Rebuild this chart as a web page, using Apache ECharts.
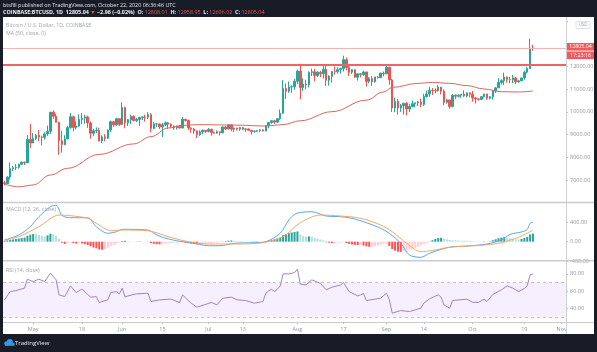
<!DOCTYPE html>
<html><head><meta charset="utf-8">
<script src="https://cdn.jsdelivr.net/npm/echarts@6/dist/echarts.min.js"></script>
<style>html,body{margin:0;padding:0;background:#fff}#c{width:597px;height:352px}</style>
</head><body><div id="c"></div>
<script>
// ---------- categories / ticks ----------
const startDate = '2020-04-21';
const dayCount = 196; // axis runs Apr 21 .. Nov 2
const tickDates = ['2020-05-01','2020-05-18','2020-06-01','2020-06-15','2020-07-01','2020-07-13','2020-08-01','2020-08-17','2020-09-01','2020-09-14','2020-10-01','2020-10-19','2020-11-01'];
const tickTexts = ['May','18','Jun','15','Jul','13','Aug','17','Sep','14','Oct','19','Nov'];

// ---------- daily OHLC, Apr 21 .. Oct 22 2020 ----------
const opens = [6880,6845,7130,7500,7540,7560,7690,7790,7760,8790,
8630,8830,8970,8890,8880,9030,9150,9990,9810,9540,
8730,8560,8810,9310,9790,9310,9380,9670,9730,9780,
9510,9060,9170,9180,8720,8900,8840,9200,9570,9430,9700,
9450,10200,9520,9660,9800,9620,9670,9750,9780,9770,
9880,9270,9470,9470,9340,9430,9520,9460,9380,9300,
9360,9290,9680,9620,9290,9250,9160,9000,9120,9190,
9140,9230,9090,9060,9130,9080,9340,9250,9430,9240,
9290,9240,9310,9240,9250,9190,9130,9150,9170,9210,
9160,9390,9530,9610,9550,9700,9940,11030,10910,11100,11110,
11350,11800,11070,11230,11190,11740,11770,11600,11750,11680,
11880,11390,11570,11780,11770,11860,11910,12300,11960,11750,
11860,11530,11680,11650,11760,11340,11470,11330,11540,11510,11710,
11680,11970,11410,10170,10470,10170,10280,10380,10130,10240,
10360,10400,10440,10330,10680,10790,10950,10940,10930,11090,
10920,10420,10530,10240,10740,10690,10730,10780,10700,10840,
10780,10620,10570,10550,10670,10790,10600,10670,10920,11060,
11300,11380,11540,11430,11430,11500,11320,11370,11500,11750,
11910,12808];
const closes = [6845,7130,7500,7540,7560,7690,7790,7760,8790,8630,
8830,8970,8890,8880,9030,9150,9990,9810,9540,8730,
8560,8810,9310,9790,9310,9380,9670,9730,9780,9510,
9060,9170,9180,8720,8900,8840,9200,9570,9430,9700,9450,
10200,9520,9660,9800,9620,9670,9750,9780,9770,9880,
9270,9470,9470,9340,9430,9520,9460,9380,9300,9360,
9290,9680,9620,9290,9250,9160,9000,9120,9190,9140,
9230,9090,9060,9130,9080,9340,9250,9430,9240,9290,
9240,9310,9240,9250,9190,9130,9150,9170,9210,9160,
9390,9530,9610,9550,9700,9940,11030,10910,11100,11110,11350,
11800,11070,11230,11190,11740,11770,11600,11750,11680,11880,
11390,11570,11780,11770,11860,11910,12300,11960,11750,11860,
11530,11680,11650,11760,11340,11470,11330,11540,11510,11710,11680,
11970,11410,10170,10470,10170,10280,10380,10130,10240,10360,
10400,10440,10330,10680,10790,10950,10940,10930,11090,10920,
10420,10530,10240,10740,10690,10730,10780,10700,10840,10780,
10620,10570,10550,10670,10790,10600,10670,10920,11060,11300,
11380,11540,11430,11430,11500,11320,11370,11500,11750,11910,
12808,12805];
const highs = [6965,7160,7770,7620,7700,7720,7800,7800,8980,9470,
9070,9020,9200,8950,9100,9400,9990,10070,9920,9570,
9170,8970,9390,9950,9840,9580,9890,9950,9880,9840,
9580,9260,9320,9310,8970,9020,9220,9620,9610,9740,9700,
10430,10230,9690,9880,9850,9740,9790,9800,9880,9990,
9950,9560,9490,9490,9520,9580,9560,9490,9400,9400,
9420,9780,9690,9660,9320,9290,9190,9190,9230,9200,
9290,9270,9130,9190,9140,9360,9370,9460,9440,9310,
9300,9340,9340,9280,9270,9210,9190,9200,9240,9220,
9420,9550,9640,9650,9730,10110,11400,11250,11340,11170,11450,
11860,12120,11480,11420,11790,11910,11900,11800,11810,12070,
12050,11620,11800,12000,11970,11950,12480,12400,12030,11890,
11880,11690,11700,11820,11770,11540,11590,11550,11590,11720,11780,
12090,11990,11460,10630,10570,10350,10400,10440,10360,10500,
10410,10480,10580,10800,10940,11100,11050,11040,11180,11100,
10990,10580,10540,10790,10770,10780,10790,10950,10860,10850,
10920,10640,10600,10690,10800,10800,10690,10960,11100,11490,
11440,11730,11560,11550,11630,11540,11400,11500,11820,11990,
13220,12959];
const lows = [6770,6830,7020,7400,7450,7500,7660,7660,7740,8400,
8630,8770,8710,8530,8780,8940,9030,9700,9520,8110,
8200,8530,8800,9260,9140,9230,9330,9460,9480,9300,
8820,8940,9070,8700,8630,8700,8810,9110,9340,9370,9370,
9420,9280,9380,9470,9580,9550,9380,9640,9570,9690,
9100,9240,9340,9250,8900,9380,9250,9280,9200,9220,
9270,9280,9570,9200,9080,9030,8850,8940,9020,9070,
9100,8950,9040,9050,8960,9060,9200,9230,9150,9110,
9180,9160,9200,9120,9170,9000,9090,9120,9110,9140,
9150,9280,9480,9460,9530,9650,9920,10570,10840,10850,10980,
11220,10550,10920,11000,11080,11580,11350,11540,11530,11470,
11140,11160,11290,11640,11690,11690,11780,11830,11580,11670,
11500,11380,11520,11590,11120,11260,11150,11290,11470,11490,11570,
11660,11200,10000,9990,9880,10000,9880,9850,10000,10200,
10200,10260,10210,10270,10630,10670,10750,10820,10900,10770,
10300,10360,10140,10200,10560,10640,10610,10650,10640,10650,
10450,10370,10500,10520,10630,10530,10560,10540,10830,11060,
11210,11180,11290,11270,11270,11220,11290,11350,11420,11690,
11900,12696];

// ---------- MA (50) ----------
const smaDates = ['2020-04-21','2020-04-26','2020-05-01','2020-05-07','2020-05-13','2020-05-24','2020-06-05','2020-06-11','2020-06-17','2020-06-22','2020-06-28','2020-07-10','2020-07-21','2020-07-27','2020-08-02','2020-08-13','2020-08-25','2020-08-31','2020-09-03','2020-09-12','2020-09-17','2020-09-23','2020-09-29','2020-10-05','2020-10-11','2020-10-17','2020-10-22'];
const smaValues = [6824,6700,6780,7220,7515,8130,8590,8910,9290,9410,9440,9420,9380,9440,9610,10010,10520,10880,11080,11260,11300,11260,11160,11010,10890,10880,10920];

// ---------- MACD ----------
const macdDates = ['2020-04-21','2020-04-26','2020-04-30','2020-05-03','2020-05-07','2020-05-09','2020-05-11','2020-05-14','2020-05-20','2020-05-23','2020-05-27','2020-05-30','2020-06-01','2020-06-10','2020-06-12','2020-06-15','2020-06-20','2020-06-26','2020-07-01','2020-07-05','2020-07-10','2020-07-17','2020-07-21','2020-07-26','2020-07-29','2020-07-31','2020-08-02','2020-08-06','2020-08-11','2020-08-16','2020-08-20','2020-08-25','2020-08-30','2020-09-02','2020-09-06','2020-09-09','2020-09-13','2020-09-16','2020-09-20','2020-09-24','2020-09-29','2020-10-06','2020-10-11','2020-10-14','2020-10-18','2020-10-20','2020-10-21','2020-10-22'];
const macdValues = [35,137,308,513,718,748,540,492,491,308,172,205,254,240,172,90,20,-33,-82,-82,-33,-20,0,172,445,560,600,615,527,513,480,390,275,172,-33,-273,-320,-238,-156,-102,-90,-47,35,150,200,250,380,398];
const signalDates = ['2020-04-21','2020-04-26','2020-05-03','2020-05-10','2020-05-14','2020-05-20','2020-05-23','2020-05-28','2020-06-01','2020-06-10','2020-06-17','2020-06-24','2020-07-01','2020-07-10','2020-07-20','2020-07-27','2020-08-02','2020-08-09','2020-08-16','2020-08-23','2020-08-30','2020-09-03','2020-09-08','2020-09-13','2020-09-17','2020-09-23','2020-10-05','2020-10-11','2020-10-17','2020-10-22'];
const signalValues = [30,103,308,547,533,480,377,225,240,225,103,0,-47,-47,-20,103,390,547,527,480,342,205,-33,-205,-180,-115,-68,-20,90,240];
// histogram, one bar per day Apr 21 .. Oct 22
const histValues = [15,25,35,45,55,65,75,85,120,145,
160,155,140,120,105,130,165,150,120,60,
-20,-45,-35,-20,-30,-40,-30,-35,-50,-70,
-95,-120,-135,-160,-165,-150,-125,-95,-70,-45,-20,
15,20,10,5,0,5,8,5,2,-5,
-30,-45,-50,-55,-45,-40,-35,-30,-25,-20,
-15,-10,-20,-30,-40,-48,-55,-50,-45,-40,
-35,-30,-25,-20,-10,5,12,20,25,20,
15,12,8,4,0,-4,-8,-10,-8,-5,
5,20,35,50,65,85,135,155,175,190,200,
210,150,120,100,110,105,80,60,45,30,
-10,-20,-28,-25,-20,-15,-8,-30,-45,-55,
-65,-68,-60,-80,-95,-105,-100,-90,-75,-60,-50,
-40,-90,-150,-185,-205,-210,-195,-180,-165,-145,
-125,-105,-80,-55,-30,5,30,55,75,80,
65,50,35,30,28,25,22,20,18,15,
10,7,5,4,6,5,8,30,50,70,
85,92,80,70,60,50,45,55,75,100,
150,165];

// ---------- RSI (14) ----------
const rsiDates = ['2020-04-21','2020-04-23','2020-04-25','2020-04-28','2020-04-29','2020-05-01','2020-05-03','2020-05-05','2020-05-07','2020-05-09','2020-05-10','2020-05-12','2020-05-14','2020-05-16','2020-05-18','2020-05-21','2020-05-23','2020-05-24','2020-05-27','2020-05-28','2020-05-30','2020-05-31','2020-06-01','2020-06-02','2020-06-03','2020-06-06','2020-06-10','2020-06-11','2020-06-14','2020-06-18','2020-06-21','2020-06-22','2020-06-25','2020-06-27','2020-07-02','2020-07-04','2020-07-06','2020-07-09','2020-07-11','2020-07-14','2020-07-17','2020-07-20','2020-07-21','2020-07-22','2020-07-23','2020-07-24','2020-07-25','2020-07-26','2020-07-27','2020-07-29','2020-07-31','2020-08-01','2020-08-02','2020-08-04','2020-08-06','2020-08-09','2020-08-11','2020-08-13','2020-08-16','2020-08-17','2020-08-19','2020-08-22','2020-08-23','2020-08-24','2020-08-25','2020-08-30','2020-09-01','2020-09-02','2020-09-03','2020-09-06','2020-09-09','2020-09-13','2020-09-14','2020-09-16','2020-09-19','2020-09-20','2020-09-21','2020-09-23','2020-09-24','2020-09-29','2020-10-01','2020-10-03','2020-10-05','2020-10-06','2020-10-08','2020-10-11','2020-10-13','2020-10-15','2020-10-17','2020-10-19','2020-10-20','2020-10-21','2020-10-22'];
const rsiValues = [49.8,59.4,60.6,63.4,73.8,71,73.8,71,80.8,73,55.6,53.6,66,58.3,62.2,52.9,53.6,46.7,49.8,58.3,59.4,56.7,63.4,53,54.4,56.7,57.5,47.8,49.8,50.6,46.7,55.6,45.9,41.2,46.7,44,51.7,52.9,49.8,49,45.9,47.8,57.5,60,62.2,59.4,62,66,80,80,81.5,85.4,68,67.2,73,69,61.4,64.5,67,70,59.4,54.4,55.6,57,49,51.7,57.5,50,34.3,37.3,36.2,40.1,46,51,55.6,53,44,40.1,49,50.6,47,46.7,50.6,47.8,56,61.4,66,63.4,59.4,63,66,78.8,80];

// ---------- build ----------
const dates = [];
const d0 = Date.parse(startDate + 'T00:00:00Z');
for (let i = 0; i < dayCount; i++) dates.push(new Date(d0 + i * 86400000).toISOString().slice(0, 10));
const tickSet = new Set(tickDates);
const candles = opens.map((o, i) => [o, closes[i], lows[i], highs[i]]);
const pair = (ds, vs) => ds.map((d, i) => [dates.indexOf(d), vs[i]]);
const histData = histValues.map((v, i) => {
  const p = i > 0 ? histValues[i - 1] : 0;
  let c;
  if (v >= 0) c = v >= p ? '#26a69a' : '#b2dfdb';
  else c = v < p ? '#ff5252' : '#ffcdd2';
  return { value: v, itemStyle: { color: c } };
});

const FONT = 'Open Sans';
const AX = '#8f939c';
const xAx = (gi, show) => ({
  type: 'category', gridIndex: gi, data: dates, boundaryGap: true,
  axisLine: { show: false },
  axisTick: { show: show, alignWithLabel: true, interval: (idx, v) => tickSet.has(v), length: 2, lineStyle: { color: '#b8bbc2' } },
  axisLabel: { show: show, interval: (idx, v) => tickSet.has(v), formatter: v => tickTexts[tickDates.indexOf(v)] || '', fontSize: 5.5, color: AX, margin: 4, fontFamily: FONT },
  splitLine: { show: false }
});
const yLab = (fmt) => ({ fontSize: 5.5, color: AX, margin: 4, fontFamily: FONT, formatter: fmt });
const yTick = { show: true, length: 2, lineStyle: { color: '#b8bbc2' } };

const option = {
  backgroundColor: '#ffffff',
  animation: false,
  grid: [
    { left: 3, right: 31, top: 16.6, height: 186.1 },
    { left: 3, right: 31, top: 202.7, height: 58.5 },
    { left: 3, right: 31, top: 261, height: 61 }
  ],
  xAxis: [xAx(0, false), xAx(1, false), xAx(2, true)],
  yAxis: [
    { type: 'value', gridIndex: 0, position: 'right', min: 6000, max: 14200, interval: 1000,
      splitLine: { show: false }, axisLine: { show: false }, axisTick: yTick,
      axisLabel: yLab(v => (v >= 7000 && v <= 12000) ? v.toFixed(2) : '') },
    { type: 'value', gridIndex: 1, position: 'right', min: -400, max: 800, interval: 400,
      splitLine: { show: false }, axisLine: { show: false }, axisTick: yTick,
      axisLabel: yLab(v => (v >= -400 && v <= 400) ? v.toFixed(2) : '') },
    { type: 'value', gridIndex: 2, position: 'right', min: 24, max: 95,
      splitLine: { show: false }, axisLine: { show: false },
      axisTick: { show: true, length: 2, lineStyle: { color: '#b8bbc2' }, customValues: [40, 60, 80] },
      axisLabel: Object.assign(yLab(v => v.toFixed(2)), { customValues: [40, 60, 80] }) }
  ],
  series: [
    { type: 'candlestick', xAxisIndex: 0, yAxisIndex: 0, data: candles, barWidth: 2,
      itemStyle: { color: '#26a69a', color0: '#ef5350', borderColor: '#26a69a', borderColor0: '#ef5350', borderWidth: 1 },
      markLine: { silent: true, symbol: 'none', label: { show: false }, animation: false,
        data: [
          { yAxis: 12100, lineStyle: { color: '#ee6464', width: 2, type: 'solid' } },
          { yAxis: 12805.04, lineStyle: { color: '#f6b3b3', width: 1, type: 'solid' } }
        ] } },
    { type: 'line', xAxisIndex: 0, yAxisIndex: 0, data: pair(smaDates, smaValues), showSymbol: false,
      smooth: 0.4, smoothMonotone: 'x', lineStyle: { color: '#d9675f', width: 1 } },
    { type: 'bar', xAxisIndex: 1, yAxisIndex: 1, data: histData, barWidth: 2 },
    { type: 'line', xAxisIndex: 1, yAxisIndex: 1, data: pair(macdDates, macdValues), showSymbol: false,
      smooth: 0.3, lineStyle: { color: '#5aa6ee', width: 1 } },
    { type: 'line', xAxisIndex: 1, yAxisIndex: 1, data: pair(signalDates, signalValues), showSymbol: false,
      smooth: 0.3, lineStyle: { color: '#f5a766', width: 1 } },
    { type: 'line', xAxisIndex: 2, yAxisIndex: 2, data: pair(rsiDates, rsiValues), showSymbol: false,
      lineStyle: { color: '#a183c9', width: 1 },
      markArea: { silent: true, itemStyle: { color: 'rgba(170,110,240,0.11)' }, data: [[{ yAxis: 30 }, { yAxis: 70 }]] },
      markLine: { silent: true, symbol: 'none', label: { show: false },
        lineStyle: { color: '#c4bccf', width: 1, type: [3, 3] }, data: [{ yAxis: 70 }, { yAxis: 30 }] } }
  ],
  graphic: [
    // frame lines
    { type: 'line', z: 40, shape: { x1: 566.5, y1: 17, x2: 566.5, y2: 334 }, style: { stroke: '#cfd1d6', lineWidth: 1 } },
    { type: 'line', z: 40, shape: { x1: 3, y1: 202.5, x2: 594, y2: 202.5 }, style: { stroke: '#c9cbd0', lineWidth: 1.5 } },
    { type: 'line', z: 40, shape: { x1: 3, y1: 260.8, x2: 594, y2: 260.8 }, style: { stroke: '#c9cbd0', lineWidth: 1.5 } },
    { type: 'line', z: 40, shape: { x1: 3, y1: 322.5, x2: 594, y2: 322.5 }, style: { stroke: '#c9cbd0', lineWidth: 1 } },
    { type: 'rect', z: 39, shape: { x: 567, y: 323.2, width: 27, height: 10.5 }, style: { fill: '#ffffff' } },
    // dark surround
    { type: 'rect', z: 50, shape: { x: 0, y: 0, width: 597, height: 17 }, style: { fill: '#181c27' } },
    { type: 'rect', z: 50, shape: { x: 0, y: 334, width: 597, height: 18 }, style: { fill: '#181c27' } },
    { type: 'rect', z: 50, shape: { x: 0, y: 0, width: 3, height: 352 }, style: { fill: '#181c27' } },
    { type: 'rect', z: 50, shape: { x: 594, y: 0, width: 3, height: 352 }, style: { fill: '#181c27' } },
    // header
    { type: 'text', z: 60, x: 3, y: 2.5, style: { text: 'btsfill published on TradingView.com, October 22, 2020 06:36:46 UTC', fill: '#e6e8ee', fontSize: 5.4, fontFamily: FONT } },
    { type: 'text', z: 60, x: 3, y: 9.8, style: {
      text: '{w|COINBASE:BTCUSD, 1D  12805.04 }{r|▼}{w| −2.96 (−0.02%)  O: }{r|12808.01}{w|  H: }{r|12958.95}{w|  L: }{r|12696.02}{w|  C: }{r|12805.04}',
      fontSize: 5.4, fontFamily: FONT,
      rich: { w: { fill: '#f0f1f4', fontSize: 5.4, fontWeight: 'bold', fontFamily: FONT }, r: { fill: '#f0555a', fontSize: 5.4, fontFamily: FONT } } } },
    // pane titles
    { type: 'text', z: 60, x: 6, y: 23, style: { text: 'Bitcoin / U.S. Dollar, 1D, COINBASE', fill: '#9ea2ab', fontSize: 5.3, fontFamily: FONT } },
    { type: 'text', z: 60, x: 6, y: 30.5, style: { text: 'MA (50, close, 0)', fill: '#9ea2ab', fontSize: 5.3, fontFamily: FONT } },
    { type: 'text', z: 60, x: 6, y: 206.5, style: { text: 'MACD (12, 26, close)', fill: '#9ea2ab', fontSize: 5.3, fontFamily: FONT } },
    { type: 'text', z: 60, x: 6, y: 267.5, style: { text: 'RSI (14, close)', fill: '#9ea2ab', fontSize: 5.3, fontFamily: FONT } },
    // USD box and price tags
    { type: 'rect', z: 60, shape: { x: 576, y: 21.5, width: 14, height: 7, r: 1 }, style: { fill: '#ffffff', stroke: '#d6d8dd', lineWidth: 0.8 } },
    { type: 'text', z: 61, x: 583, y: 25, style: { text: 'USD', fill: '#9ea2ab', fontSize: 4.6, fontFamily: FONT, align: 'center', verticalAlign: 'middle' } },
    { type: 'rect', z: 60, shape: { x: 567, y: 43, width: 27, height: 7.6 }, style: { fill: '#f05a5a' } },
    { type: 'text', z: 61, x: 580.5, y: 46.9, style: { text: '12805.04', fill: '#ffffff', fontSize: 5.3, fontFamily: FONT, align: 'center', verticalAlign: 'middle' } },
    { type: 'rect', z: 60, shape: { x: 567, y: 51.5, width: 27, height: 7.6 }, style: { fill: '#f05a5a' } },
    { type: 'text', z: 61, x: 580.5, y: 55.4, style: { text: '17:23:16', fill: '#ffffff', fontSize: 5.3, fontFamily: FONT, align: 'center', verticalAlign: 'middle' } },
    // TradingView logo
    { type: 'circle', z: 60, shape: { cx: 6.5, cy: 343.5, r: 2.3 }, style: { fill: '#2b9bf4' } },
    { type: 'circle', z: 60, shape: { cx: 9.8, cy: 342, r: 3 }, style: { fill: '#2b9bf4' } },
    { type: 'rect', z: 60, shape: { x: 5, y: 343, width: 9.5, height: 2.8 }, style: { fill: '#2b9bf4' } },
    { type: 'text', z: 60, x: 15, y: 340, style: { text: 'TradingView', fill: '#e9ebf0', fontSize: 6, fontFamily: FONT } }
  ]
};
const chart = echarts.init(document.getElementById('c'), null, { renderer: 'canvas' });
chart.setOption(option);
</script></body></html>
